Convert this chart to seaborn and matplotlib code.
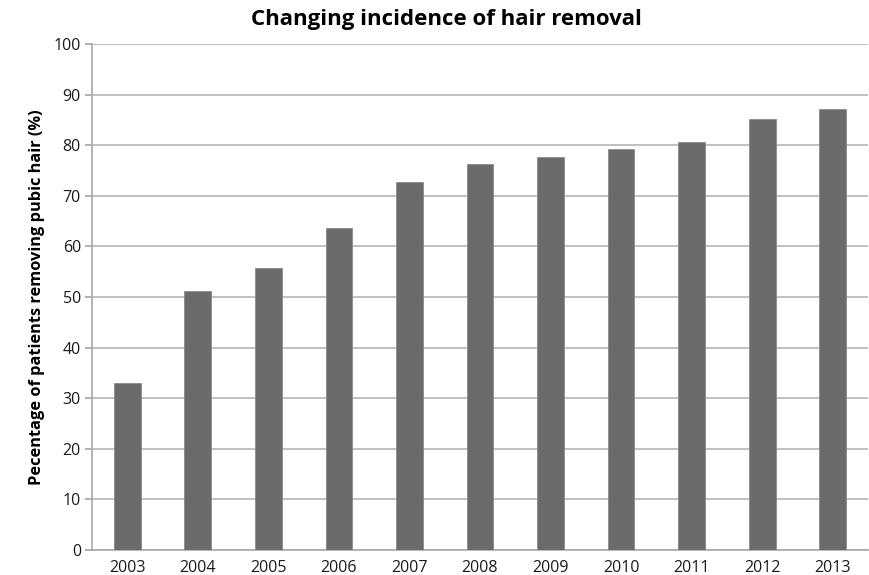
import matplotlib
matplotlib.use('Agg')
import matplotlib.pyplot as plt
import seaborn as sns
import pandas as pd

years = ["2003", "2004", "2005", "2006", "2007", "2008", "2009", "2010", "2011", "2012", "2013"]
pct = [33.1, 51.1, 55.7, 63.6, 72.8, 76.2, 77.6, 79.3, 80.6, 85.1, 87.2]

sns.set_theme(style="white")
plt.rcParams['font.family'] = ['Open Sans', 'DejaVu Sans']
plt.rcParams.update({'text.color': 'black', 'axes.labelcolor': 'black',
                     'xtick.color': 'black', 'ytick.color': 'black'})

df = pd.DataFrame({"year": years, "pct": pct})

fig = plt.figure(figsize=(8.69, 5.75), dpi=100)
ax = fig.add_axes([92/869, 1-550/575, 776/869, 506/575])
sns.barplot(data=df, x="year", y="pct", color="#6b6b6b", width=0.38,
            edgecolor="#8a8a8a", linewidth=0.6, saturation=1, ax=ax, zorder=3)

ax.set_ylim(0, 100)
ax.set_yticks(range(0, 101, 10))
ax.set_xlim(-0.5, len(years) - 0.5)
ax.grid(axis='y', color="#b5b5b5", linewidth=1.2, zorder=0)
ax.set_axisbelow(True)
for s in ['top', 'right']:
    ax.spines[s].set_visible(False)
for s in ['left', 'bottom']:
    ax.spines[s].set_color("#a8a8a8")
    ax.spines[s].set_linewidth(1.2)
ax.tick_params(axis='y', left=True, length=5, color="#a8a8a8", labelcolor="#1a1a1a",
               labelsize=11.5, pad=3)
ax.tick_params(axis='x', bottom=False, labelcolor="#1a1a1a", labelsize=11.5, pad=1)
ax.set_xlabel("")
ax.set_ylabel("Pecentage of patients removing pubic hair (%)", fontsize=11.8,
              fontweight='bold', labelpad=6)
fig.suptitle("Changing incidence of hair removal", fontsize=16, fontweight='bold',
             x=0.514, y=0.985)

plt.savefig("out.png", dpi=100)
plt.close()
